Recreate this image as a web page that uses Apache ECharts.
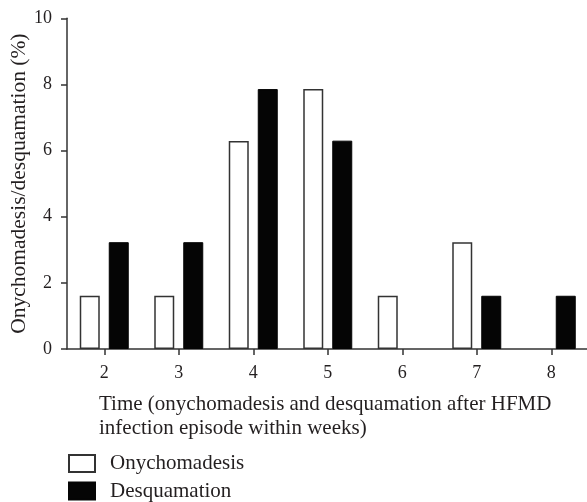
<!DOCTYPE html>
<html>
<head>
<meta charset="utf-8">
<script src="https://cdn.jsdelivr.net/npm/echarts@6/dist/echarts.min.js"></script>
<style>
html,body{margin:0;padding:0;background:#fff;}
#chart{width:587px;height:502px;}
</style>
</head>
<body>
<div id="chart"></div>
<script>
var weeks = ['2', '3', '4', '5', '6', '7', '8'];
var onychomadesis = [1.61, 1.61, 6.29, 7.86, 1.61, 3.23, null];
var desquamation = [3.23, 3.23, 7.86, 6.30, null, 1.61, 1.61];
var yTicks = [0, 2, 4, 6, 8, 10];

var FONT = 'Liberation Serif';
var TXT = '#231f20';

var chart = echarts.init(document.getElementById('chart'));
chart.setOption({
  animation: false,
  backgroundColor: '#ffffff',
  title: {
    text: 'Time (onychomadesis and desquamation after HFMD\ninfection episode within weeks)',
    left: 99,
    top: 392,
    padding: 0,
    textStyle: { fontFamily: FONT, fontSize: 21, fontWeight: 'normal', color: TXT, lineHeight: 24 }
  },
  legend: {
    orient: 'vertical',
    left: 68,
    top: 453,
    padding: 0,
    itemWidth: 26,
    itemHeight: 17,
    itemGap: 6.5,
    icon: 'rect',
    textStyle: { fontFamily: FONT, fontSize: 21, color: TXT, lineHeight: 21, padding: [0, 0, 0, 10] },
    data: ['Onychomadesis', 'Desquamation']
  },
  grid: { left: 67, right: -1.5, top: 18.3, bottom: 153, containLabel: false, outerBoundsMode: 'none' },
  xAxis: {
    type: 'category',
    data: weeks,
    boundaryGap: true,
    axisLine: { lineStyle: { color: '#333', width: 1.5 } },
    axisTick: { show: true, alignWithLabel: true, length: 6, lineStyle: { color: '#333', width: 1.5 } },
    axisLabel: { fontFamily: FONT, fontSize: 18, color: TXT, margin: 15 }
  },
  yAxis: {
    type: 'value',
    min: yTicks[0],
    max: yTicks[yTicks.length - 1],
    interval: 2,
    name: 'Onychomadesis/desquamation (%)',
    nameLocation: 'middle',
    nameGap: 37,
    nameMoveOverlap: false,
    nameTextStyle: { fontFamily: FONT, fontSize: 21.5, color: TXT },
    splitLine: { show: false },
    axisLine: { show: true, lineStyle: { color: '#333', width: 1.5 } },
    axisTick: { show: true, length: 6, lineStyle: { color: '#333', width: 1.5 } },
    axisLabel: { fontFamily: FONT, fontSize: 18, color: TXT, margin: 15 }
  },
  series: [
    {
      name: 'Onychomadesis',
      type: 'bar',
      data: onychomadesis,
      barWidth: 20,
      barGap: '45%',
      itemStyle: { color: '#ffffff', borderColor: '#333333', borderWidth: 1.5 }
    },
    {
      name: 'Desquamation',
      type: 'bar',
      data: desquamation,
      barWidth: 20,
      itemStyle: { color: '#050505', borderColor: '#050505', borderWidth: 1 }
    }
  ]
});
</script>
</body>
</html>
